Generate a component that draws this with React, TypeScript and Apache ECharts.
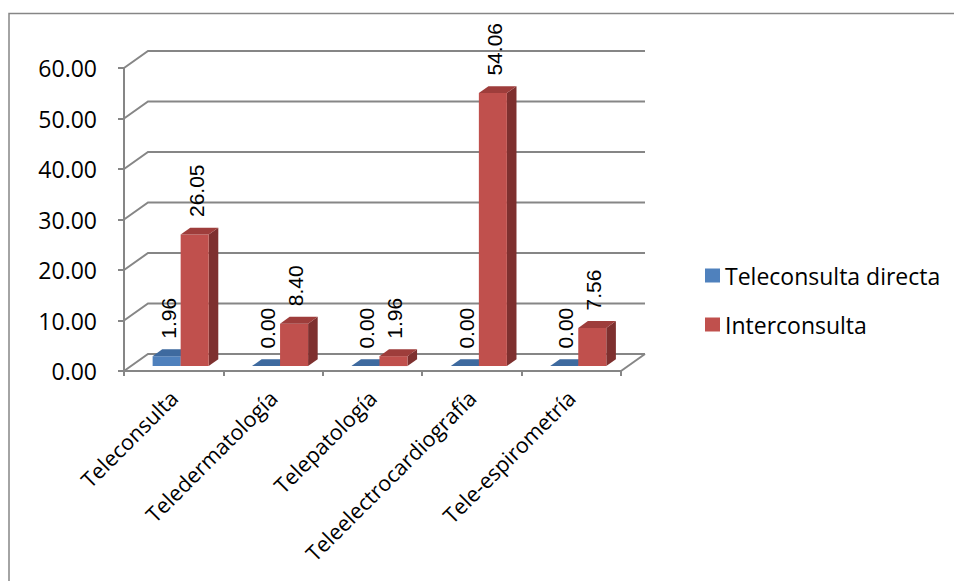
import React, { useEffect, useRef } from "react";
import * as echarts from "echarts";

const categories = [
  "Teleconsulta",
  "Teledermatología",
  "Telepatología",
  "Teleelectrocardiografía",
  "Tele-espirometría",
];
const seriesNames = ["Teleconsulta directa", "Interconsulta"];
const directaValues = [1.96, 0.0, 0.0, 0.0, 0.0];
const interconsultaValues = [26.05, 8.4, 1.96, 54.06, 7.56];
const yTicks = [0, 10, 20, 30, 40, 50, 60];

const DEPTH_X = 24;
const DEPTH_Y = -17;
const F0 = 0.29;
const F1 = 0.69;
const BAR_RATIO = 0.282;
const GRID_COLOR = "#868686";

const blueColors = { front: "#4F81BD", top: "#3E6A9F", side: "#2F5580" };
const redColors = { front: "#C0504D", top: "#9E3D3B", side: "#7E302F" };

function makeBarRender(slot: number, colors: { front: string; top: string; side: string }) {
  return (params: any, api: any) => {
    const idx = api.value(0);
    const v = api.value(1);
    const base = api.coord([idx, 0]);
    const topP = api.coord([idx, v]);
    const w = api.size([1, 0])[0] * BAR_RATIO;
    const dx0 = DEPTH_X * F0;
    const dy0 = DEPTH_Y * F0;
    const ddx = DEPTH_X * (F1 - F0);
    const ddy = DEPTH_Y * (F1 - F0);
    const xl = base[0] + dx0 + (slot === 0 ? -w : 0);
    const xr = xl + w;
    const yb = base[1] + dy0;
    const yt = topP[1] + dy0;
    const children: any[] = [];
    if (yb - yt > 0.1) {
      children.push({
        type: "polygon",
        shape: { points: [[xr, yt], [xr + ddx, yt + ddy], [xr + ddx, yb + ddy], [xr, yb]] },
        style: { fill: colors.side },
      });
      children.push({
        type: "rect",
        shape: { x: xl, y: yt, width: w, height: yb - yt },
        style: { fill: colors.front },
      });
    }
    children.push({
      type: "polygon",
      shape: { points: [[xl, yt], [xr, yt], [xr + ddx, yt + ddy], [xl + ddx, yt + ddy]] },
      style: { fill: colors.top },
    });
    children.push({
      type: "text",
      x: (xl + xr) / 2 + 1.5,
      y: yt - 17.5,
      rotation: Math.PI / 2,
      style: {
        text: Number(v).toFixed(2),
        fontSize: 21,
        fontFamily: "Liberation Sans",
        fill: "#000",
        align: "left",
        verticalAlign: "middle",
      },
    });
    return { type: "group", children };
  };
}

function gridRender(params: any, api: any) {
  const v = api.value(1);
  const y = api.coord([0, v])[1];
  const cs = params.coordSys;
  const x0 = cs.x;
  const x1 = cs.x + cs.width;
  const lineStyle = { stroke: GRID_COLOR, lineWidth: 2, fill: null };
  const children: any[] = [
    {
      type: "polyline",
      shape: { points: [[x0, y], [x0 + DEPTH_X, y + DEPTH_Y], [x1 + DEPTH_X, y + DEPTH_Y]] },
      style: lineStyle,
    },
  ];
  if (v === 0) {
    children.push({
      type: "line",
      shape: { x1: x1, y1: y, x2: x1 + DEPTH_X, y2: y + DEPTH_Y },
      style: lineStyle,
    });
  }
  return { type: "group", children };
}

export default function App() {
  const ref = useRef<HTMLDivElement>(null);
  useEffect(() => {
    if (!ref.current) return;
    const chart = echarts.init(ref.current, undefined, { renderer: "svg" });
    chart.setOption({
      animation: false,
      backgroundColor: "#fff",
      grid: { left: 124, right: 333, top: 68, bottom: 210, containLabel: false },
      legend: {
        data: seriesNames,
        orient: "vertical",
        left: 700,
        top: 259,
        itemWidth: 15,
        itemHeight: 14,
        itemGap: 26,
        icon: "rect",
        textStyle: { fontFamily: "Open Sans", fontSize: 23, color: "#000" },
      },
      xAxis: {
        type: "category",
        data: categories,
        axisLine: { show: true, lineStyle: { color: GRID_COLOR, width: 2 } },
        axisTick: { show: true, length: 5, lineStyle: { color: GRID_COLOR, width: 2 } },
        axisLabel: {
          interval: 0,
          rotate: 45,
          margin: 23,
          fontFamily: "Open Sans",
          fontSize: 21.5,
          color: "#000",
        },
        splitLine: { show: false },
      },
      yAxis: {
        type: "value",
        min: 0,
        max: 60,
        interval: 10,
        axisLine: { show: true, lineStyle: { color: GRID_COLOR, width: 2 } },
        axisTick: { show: true, length: 6, lineStyle: { color: GRID_COLOR, width: 2 } },
        axisLabel: {
          margin: 27,
          fontFamily: "Open Sans",
          fontSize: 23,
          color: "#000",
          formatter: (v: number) => v.toFixed(2),
        },
        splitLine: { show: false },
      },
      graphic: [
        {
          type: "rect",
          shape: { x: 9, y: 13.5, width: 980, height: 620 },
          style: { fill: "none", stroke: GRID_COLOR, lineWidth: 1.5 },
          silent: true,
        },
      ],
      series: [
        {
          type: "custom",
          z: 1,
          silent: true,
          renderItem: gridRender,
          data: yTicks.map((v) => [0, v]),
          encode: { x: 0, y: 1 },
        },
        {
          type: "custom",
          name: seriesNames[0],
          z: 2,
          itemStyle: { color: blueColors.front },
          renderItem: makeBarRender(0, blueColors),
          data: directaValues.map((v, i) => [i, v]),
          encode: { x: 0, y: 1 },
        },
        {
          type: "custom",
          name: seriesNames[1],
          z: 3,
          itemStyle: { color: redColors.front },
          renderItem: makeBarRender(1, redColors),
          data: interconsultaValues.map((v, i) => [i, v]),
          encode: { x: 0, y: 1 },
        },
      ],
    });
    return () => chart.dispose();
  }, []);
  return (
    <div
      ref={ref}
      style={{ position: "fixed", left: 0, top: 0, width: 954, height: 581 }}
    />
  );
}
